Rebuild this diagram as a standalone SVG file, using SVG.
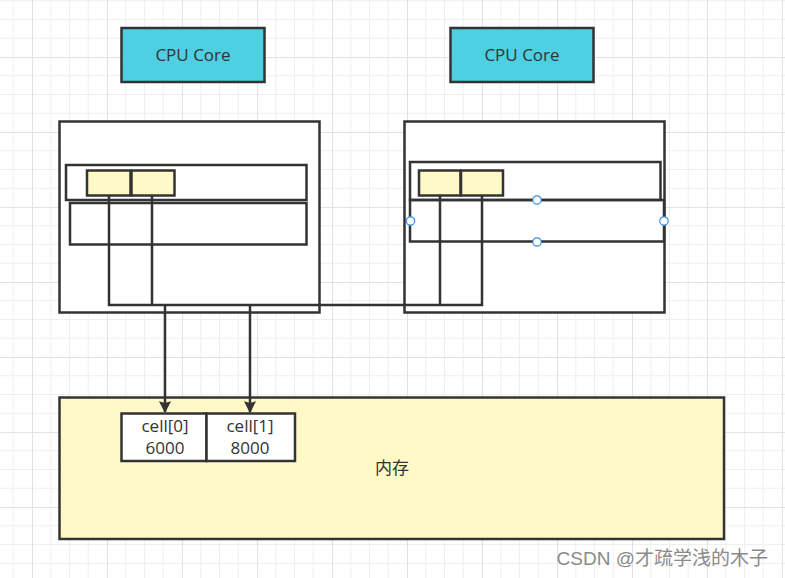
<svg xmlns="http://www.w3.org/2000/svg" width="785" height="578" viewBox="0 0 785 578">
<defs>
  <pattern id="grid" patternUnits="userSpaceOnUse" x="32" y="57" width="75" height="75">
    <path d="M18.75 0V75M37.5 0V75M56.25 0V75M0 18.75H75M0 37.5H75M0 56.25H75" stroke="#efefef" stroke-width="1" fill="none"/>
    <path d="M0.5 0V75M0 0.5H75" stroke="#e2e2e2" stroke-width="1" fill="none"/>
  </pattern>
  <marker id="arrow" viewBox="0 0 10 10" refX="9" refY="5" markerWidth="4.8" markerHeight="4.8" orient="auto" markerUnits="strokeWidth">
    <path d="M0 0L10 5L0 10L1.5 5Z" fill="#333333"/>
  </marker>
</defs>
<style>
  .box{fill:#ffffff;stroke:#333333;stroke-width:2.5}
  .nofill{fill:none;stroke:#333333;stroke-width:2.5}
  .cpu{fill:#4dd0e1;stroke:#333333;stroke-width:2.5}
  .cache{fill:#fff9c7;stroke:#333333;stroke-width:2.5}
  .mem{fill:#fff9c7;stroke:#333333;stroke-width:2.5}
  .wire{fill:none;stroke:#333333;stroke-width:2.5}
  .handle{fill:#ffffff;stroke:#3a8fe0;stroke-width:1.2}
  .t{font-family:"Open Sans","Noto Sans","Liberation Sans",sans-serif;fill:#333333;text-anchor:middle}
  .cjk{font-family:"Noto Sans CJK SC","Noto Sans",sans-serif;fill:#333333;text-anchor:middle}
</style>
<rect width="785" height="578" fill="#ffffff"/>
<rect width="785" height="578" fill="url(#grid)"/>

<g id="cpu-core-left">
  <rect class="cpu" x="121.5" y="28" width="143" height="54"/>
  <text class="t" x="193" y="61" font-size="17">CPU Core</text>
</g>
<g id="cpu-core-right">
  <rect class="cpu" x="450.5" y="28" width="143" height="54"/>
  <text class="t" x="522" y="61" font-size="17">CPU Core</text>
</g>

<g id="cache-left">
  <rect class="box" x="59.5" y="121.5" width="260" height="191"/>
  <rect class="nofill" x="66" y="165" width="240.5" height="35"/>
  <rect class="nofill" x="70" y="203" width="236.5" height="41.5"/>
  <rect class="cache" x="87" y="170.5" width="43.5" height="25"/>
  <rect class="cache" x="131.5" y="170.5" width="43" height="25"/>
</g>

<g id="cache-right">
  <rect class="box" x="404.5" y="121.5" width="260" height="191"/>
  <rect class="nofill" x="410" y="162" width="250.5" height="38"/>
  <rect class="nofill" x="410" y="200" width="254" height="41.5"/>
  <rect class="cache" x="419" y="170.5" width="41.5" height="25"/>
  <rect class="cache" x="461" y="170.5" width="42" height="25"/>
</g>

<g id="memory">
  <rect class="mem" x="59.5" y="397.5" width="664.5" height="141.5"/>
  <text class="cjk" x="392" y="474" font-size="17">内存</text>
</g>
<g id="cell0">
  <rect class="box" x="121.5" y="413.5" width="85" height="47.5"/>
  <text class="t" x="165" y="432" font-size="17">cell[0]</text>
  <text class="t" x="165" y="454" font-size="17">6000</text>
</g>
<g id="cell1">
  <rect class="box" x="206.5" y="413.5" width="88.5" height="47.5"/>
  <text class="t" x="250" y="432" font-size="17">cell[1]</text>
  <text class="t" x="250" y="454" font-size="17">8000</text>
</g>

<g id="connectors">
  <path class="wire" d="M109 196V305H482V196"/>
  <path class="wire" d="M152 196V305"/>
  <path class="wire" d="M440 196V305"/>
  <path class="wire" d="M165 306V412" marker-end="url(#arrow)"/>
  <path class="wire" d="M250 306V412" marker-end="url(#arrow)"/>
</g>

<g id="selection-handles">
  <circle class="handle" cx="537" cy="200" r="4.2"/>
  <circle class="handle" cx="410.5" cy="221" r="4.2"/>
  <circle class="handle" cx="664" cy="221" r="4.2"/>
  <circle class="handle" cx="537" cy="242" r="4.2"/>
</g>

<text x="768" y="565" font-size="19" fill="#8a8a8a" text-anchor="end" font-family="Liberation Sans,Noto Sans CJK SC,sans-serif">CSDN @才疏学浅的木子</text>
</svg>
